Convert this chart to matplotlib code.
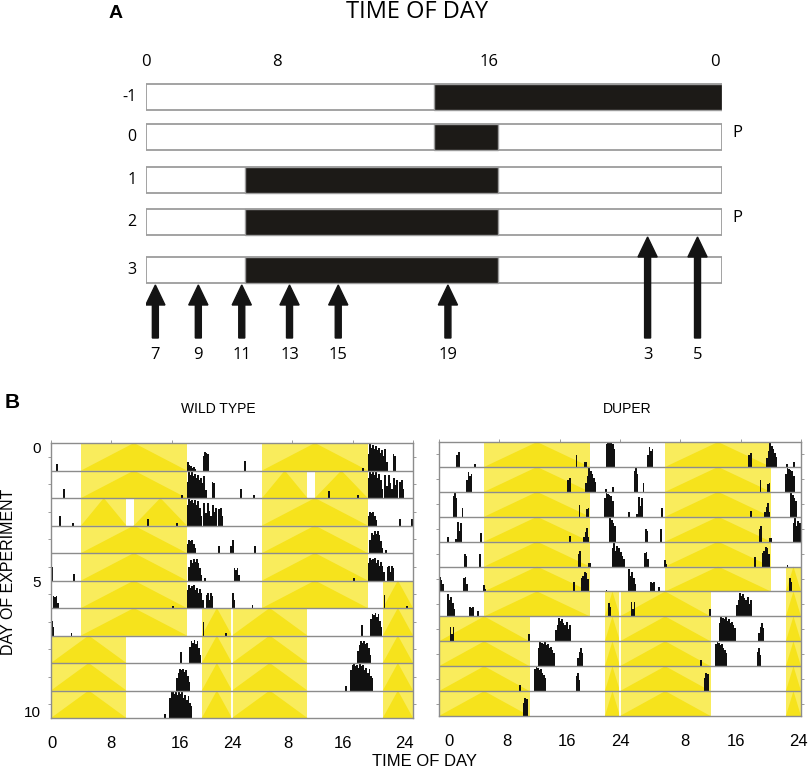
import matplotlib.pyplot as plt
from matplotlib.ticker import FixedLocator

plt.rcParams['font.family'] = ['Liberation Sans', 'DejaVu Sans']

# ---------------- panel A: light schedule schematic ----------------
a_rows = ['-1', '0', '1', '2', '3']
a_dark = [(12.0, 24.0), (12.0, 14.65), (4.13, 14.65), (4.13, 14.65), (4.13, 14.65)]
a_pulse_rows = ['0', '2']
a_tick_labels = ['0', '8', '16', '0']
a_tick_pos = [0.0, 5.44, 14.3, 23.72]
pulse_labels = ['7', '9', '11', '13', '15', '19', '3', '5']
pulse_pos = [0.39, 2.18, 3.99, 5.98, 8.01, 12.58, 20.9, 22.98]
pulse_row = ['3', '3', '3', '3', '3', '3', '2', '2']

# ---------------- panel B: actograms ----------------
# light (yellow) intervals per day, hours
wt_light = [
    [(4, 18)], [(4, 18)], [(4, 10), (11, 18)], [(4, 18)], [(4, 18)], [(4, 18)],
    [(4, 18), (20, 24)], [(0, 10), (20, 24)], [(0, 10), (20, 24)],
    [(0, 10), (20, 24)], [(0, 10), (20, 24)],
]
duper_light = [
    [(6, 20)], [(6, 20)], [(6, 20)], [(6, 20)], [(6, 20)], [(6, 20)],
    [(6, 20), (22, 24)], [(0, 12), (22, 24)], [(0, 12), (22, 24)],
    [(0, 12), (22, 24)], [(0, 12), (22, 24)], [(0, 12), (22, 24)],
]

# activity bouts per day: (start hour, heights of 0.2 h bins as fraction of row)
wt_act = [
    [(0.7, [0.25]), (18.0, [0.3, 0.2, 0.15, 0.1, 0.12, 0.05]), (20.1, [0.55, 0.7, 0.65, 0.6])],
    [(1.6, [0.35]), (17.2, [0.1]),
     (18.0, [0.6, 1.0, 0.85, 0.95, 0.8, 0.9, 0.75, 0.85, 0.65, 0.75, 0.55, 0.8, 0.3]),
     (21.3, [0.6, 0.55])],
    [(1.1, [0.35]), (2.8, [0.1]), (12.7, [0.25]), (16.6, [0.1]),
     (18.0, [0.75, 1.0, 0.9, 0.95, 0.85, 0.95, 0.75, 0.9, 0.65, 0.35]),
     (20.2, [0.85, 0.45]), (20.7, [0.85, 0.55, 0.35]), (21.4, [0.75, 0.5, 0.65]),
     (22.2, [0.6, 0.65, 0.35])],
    [(18.0, [0.35, 0.5, 0.45, 0.5, 0.35, 0.2]), (22.2, [0.25]), (23.8, [0.25])],
    [(0.0, [0.5]), (2.9, [0.25]), (18.2, [0.5, 0.75, 0.65, 0.8, 0.7, 0.8, 0.65, 0.45, 0.2]),
     (20.3, [0.1])],
    [(0.2, [0.45, 0.4, 0.45, 0.2]), (16.1, [0.08]),
     (18.0, [0.65, 0.85, 0.75, 0.8, 0.85, 0.65, 0.75, 0.55, 0.7, 0.55, 0.3]),
     (20.5, [0.5, 0.55, 0.3, 0.55, 0.45])],
    [(0.0, [0.55, 0.3]), (2.6, [0.1]), (20.1, [0.5]), (23.1, [0.08])],
    [(17.1, [0.4]), (18.3, [0.6, 0.8, 0.75, 0.85, 0.7, 0.8, 0.55, 0.3])],
    [(16.6, [0.45, 0.65, 0.8, 0.75, 0.8, 0.7, 0.75, 0.55, 0.3])],
    [(15.0, [0.15]),
     (15.7, [0.75, 0.95, 1.0, 0.9, 0.95, 0.85, 1.0, 0.9, 0.95, 0.75, 0.85, 0.65, 0.8, 0.55, 0.45])],
    [],
]
duper_act = [
    [(2.3, [0.5, 0.6]), (4.7, [0.1]), (18.1, [0.5]), (19.2, [0.2, 0.2]),
     (22.1, [0.95, 1.0, 1.0, 1.0, 0.95, 0.75])],
    [(3.6, [0.5, 0.8, 0.65, 0.75]), (17.0, [0.5, 0.55]),
     (19.4, [0.35, 0.65, 1.0, 0.85, 0.75, 0.55, 0.4]), (22.0, [0.1]), (23.0, [0.2])],
    [(1.8, [0.85, 1.0, 0.75]), (3.0, [0.35]), (18.5, [0.5]), (19.5, [0.3, 0.35]),
     (21.9, [0.75, 1.0, 0.95, 0.9, 0.85, 0.65])],
    [(1.1, [0.2]), (2.1, [0.1]), (2.4, [0.8, 0.45, 0.75]), (5.5, [0.35]), (17.2, [0.25]),
     (19.1, [0.2, 0.4, 0.55, 0.2]), (22.6, [1.0, 0.9, 0.75, 0.65])],
    [(3.3, [0.5, 0.45]), (5.3, [0.5]), (18.4, [0.5, 0.65]), (19.7, [0.15, 0.15]),
     (22.9, [0.75, 1.0, 0.65, 0.85, 0.75])],
    [(0.0, [0.6, 0.45, 0.3]), (3.2, [0.55, 0.6, 0.3]), (5.8, [0.25, 0.1]), (17.8, [0.4]),
     (18.8, [0.55, 0.65, 0.8, 0.75, 0.5]), (22.1, [0.08])],
    [(1.1, [0.9, 0.65, 0.8, 0.55, 0.3]), (4.0, [0.4, 0.35, 0.4]), (5.1, [0.2]),
     (22.4, [0.55, 0.4])],
    [(1.4, [0.6, 0.3, 0.6]), (11.8, [0.3]),
     (15.4, [0.45, 0.65, 0.95, 0.85, 0.9, 0.75, 0.65, 0.8, 0.5, 0.65])],
    [(13.1, [0.75, 1.0, 0.95, 0.9, 1.0, 0.85, 0.9, 0.75, 0.8, 0.65, 0.55]),
     (18.3, [0.35, 0.6, 0.75, 0.55])],
    [(10.6, [0.25]), (12.6, [0.9, 1.0, 0.95, 0.85, 0.9, 0.75, 0.65, 0.55]),
     (18.1, [0.6, 0.75, 0.45])],
    [(11.1, [0.55, 0.75, 0.7])],
    [],
]
wt_xlabel_pos = [0.13, 7.95, 17.1, 24.0, 31.4, 38.7, 46.8]
duper_xlabel_pos = [1.3, 9.0, 17.0, 24.1, 32.6, 39.4, 47.6]
x_labels = ['0', '8', '16', '24', '8', '16', '24']
day_label_pos = [0.18, 5.05, 9.78]
day_labels = ['0', '5', '10']

BIN = 0.2
YELLOW_LIGHT = '#f9ec5c'
YELLOW = '#f6e31c'
GREY = '#8c8c8c'

W, H = 809, 770
fig = plt.figure(figsize=(W / 100, H / 100), dpi=100)

# ---- panel A ----
ax_a = fig.add_axes([146 / W, (H - 370) / H, 576 / W, 370 / H])
ax_a.set_xlim(0, 24)
ax_a.set_ylim(370, 0)
ax_a.axis('off')
row_y = [97, 137, 180, 222, 270]
bar_h = 26
afont = ['Open Sans', 'DejaVu Sans']
for lab, y, (d0, d1) in zip(a_rows, row_y, a_dark):
    ax_a.barh(y, 24, left=0, height=bar_h, color='white', edgecolor='#9c9c9c', lw=1.3)
    ax_a.barh(y, d1 - d0, left=d0, height=bar_h, color='#1c1a17', edgecolor='#9c9c9c', lw=1.0)
    ax_a.text(-0.4, y, lab, ha='right', va='center', fontsize=11.5, family=afont)
    if lab in a_pulse_rows:
        ax_a.text(24.45, y - 4, 'P', ha='left', va='center', fontsize=12, family=afont)
for t, p in zip(a_tick_labels, a_tick_pos):
    ax_a.text(p, 62, t, ha='center', va='center', fontsize=12, family=afont)
for lab, p, r in zip(pulse_labels, pulse_pos, pulse_row):
    tip = row_y[a_rows.index(r)] + bar_h / 2 + 2
    ax_a.arrow(p, 338, 0, tip - 338, width=0.25, head_width=0.8, head_length=20,
               length_includes_head=True, color='#141414', zorder=5)
    ax_a.text(p, 355, lab, ha='center', va='center', fontsize=12, family=afont)
ax_a.text(11.3, 12, 'TIME OF DAY', ha='center', va='center', fontsize=17, family=afont)
fig.text(116 / W, 1 - 13 / H, 'A', ha='center', va='center', fontsize=14, fontweight='bold')


# ---- panel B ----
def actogram(rect, light, act, nrows, xlabel_pos, show_days):
    ax = fig.add_axes(rect)
    ax.set_xlim(0, 48)
    ax.set_ylim(nrows, 0)
    for r in range(nrows):
        for half in (0, 1):
            day = r + half
            for s, e in light[day]:
                x0, x1 = s + 24 * half, e + 24 * half
                ax.fill([x0, x1, x1, x0], [r, r, r + 1, r + 1], color=YELLOW_LIGHT, lw=0, zorder=1)
                ax.fill([x0, x1, (x0 + x1) / 2], [r + 1, r + 1, r], color=YELLOW, lw=0, zorder=1.1)
    ax.axvline(24, color='white', lw=1.3, zorder=1.5)
    for r in range(nrows):
        for half in (0, 1):
            day = r + half
            for start, hts in act[day]:
                xs = [start + 24 * half + i * BIN for i in range(len(hts))]
                ax.bar(xs, [-0.98 * h for h in hts], bottom=r + 1, width=BIN * 1.2,
                       align='edge', color='#111111', lw=0, zorder=2)
    for r in range(1, nrows):
        ax.axhline(r, color=GREY, lw=1.0, zorder=3)
    for s in ax.spines.values():
        s.set_color(GREY)
        s.set_linewidth(1.0)
    ax.set_xticks(xlabel_pos)
    ax.set_xticklabels(x_labels, fontsize=12)
    ax.xaxis.set_minor_locator(FixedLocator(range(0, 49, 8)))
    ax.tick_params(axis='x', which='major', length=0, pad=13)
    ax.tick_params(axis='x', which='minor', top=True, bottom=False, direction='out',
                   length=2.5, color=GREY)
    ax.yaxis.set_minor_locator(FixedLocator([r + 0.5 for r in range(nrows)]))
    ax.tick_params(axis='y', which='minor', left=True, right=True, direction='out',
                   length=2.5, color=GREY)
    if show_days:
        ax.set_yticks(day_label_pos)
        ax.set_yticklabels(day_labels, fontsize=11)
        ax.tick_params(axis='y', which='major', length=0, pad=7)
    else:
        ax.set_yticks([])
    return ax


actogram([51 / W, (H - 718) / H, 362 / W, 275 / H], wt_light, wt_act, 10,
         wt_xlabel_pos, True)
actogram([439 / W, (H - 716) / H, 362 / W, 274 / H], duper_light, duper_act, 11,
         duper_xlabel_pos, False)

fig.text(218 / W, 1 - 409 / H, 'WILD TYPE', ha='center', va='center', fontsize=10)
fig.text(627 / W, 1 - 409 / H, 'DUPER', ha='center', va='center', fontsize=10)
fig.text(425 / W, 1 - 761 / H, 'TIME OF DAY', ha='center', va='center', fontsize=12)
fig.text(9 / W, 1 - 572 / H, 'DAY OF EXPERIMENT', ha='center', va='center',
         rotation=90, fontsize=11.5)
fig.text(12 / W, 1 - 403 / H, 'B', ha='center', va='center', fontsize=15, fontweight='bold')

fig.savefig('out.png', dpi=100)
